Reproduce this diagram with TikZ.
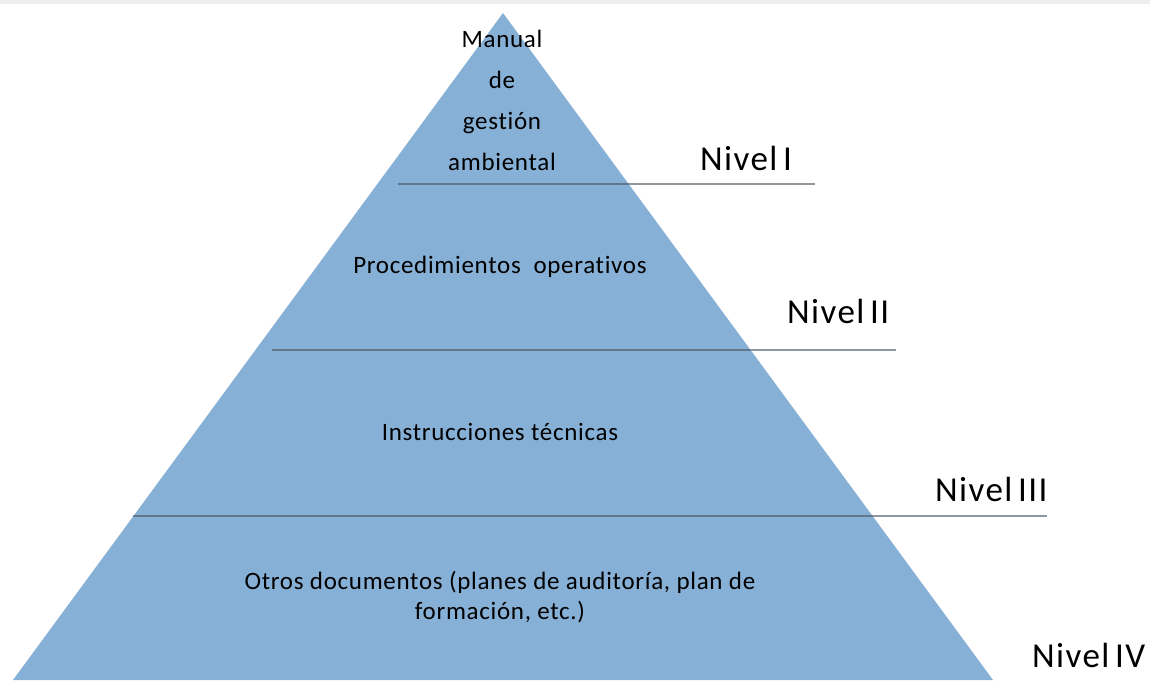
\documentclass[tikz,border=0pt]{standalone}
\usepackage{fontspec}
\setmainfont{Carlito}
\newfontfamily\wide[LetterSpace=2.8,Ligatures=NoCommon]{Carlito}
\newfontfamily\widelvl[LetterSpace=4,Ligatures=NoCommon]{Carlito}
\definecolor{pyr}{RGB}{135,176,214}
\definecolor{sep}{RGB}{70,82,94}
\definecolor{topband}{RGB}{238,238,238}
\begin{document}
\begin{tikzpicture}[x=1pt,y=-1pt,
  inner/.style={font=\wide\fontsize{25}{41}\selectfont, align=center, inner sep=0pt, text=black},
  level/.style={font=\widelvl\fontsize{35}{40}\selectfont, anchor=west, inner sep=0pt, text=black},
  sepline/.style={draw=sep, draw opacity=0.6, line width=1.5pt}]
\useasboundingbox (0,0) rectangle (1150,680);
\fill[white] (0,0) rectangle (1150,680);
\fill[topband] (0,0) rectangle (1150,4);
% pyramid
\coordinate (apex) at (503,13);
\coordinate (bl) at (13,680);
\coordinate (br) at (993,680);
\fill[pyr] (apex) -- (br) -- (bl) -- cycle;
% separator lines
\coordinate (l1a) at (398,184); \coordinate (l1b) at (815,184);
\coordinate (l2a) at (272,350); \coordinate (l2b) at (896,350);
\coordinate (l3a) at (133,516); \coordinate (l3b) at (1047,516);
\draw[sepline] (l1a) -- (l1b);
\draw[sepline] (l2a) -- (l2b);
\draw[sepline] (l3a) -- (l3b);
% texts
\node[inner] (t1) at (502,100) {Manual\\de\\gestión\\ambiental};
\node[inner] (t2) at (500,267) {Procedimientos\ \ operativos};
\node[inner] (t3) at (500,432) {Instrucciones técnicas};
\node[inner, font=\wide\fontsize{25}{30}\selectfont] (t4) at (500,597) {Otros documentos (planes de auditoría, plan de\\formación, etc.)};
% level labels
\node[level] (n1) at (700,158) {Nivel\hspace{-0.1em} I};
\node[level] (n2) at (787,311) {Nivel\hspace{-0.1em} II};
\node[level] (n3) at (935,489) {Nivel\hspace{-0.1em} III};
\node[level] (n4) at (1032,655) {Nivel\hspace{-0.1em} IV};
\end{tikzpicture}
\end{document}
